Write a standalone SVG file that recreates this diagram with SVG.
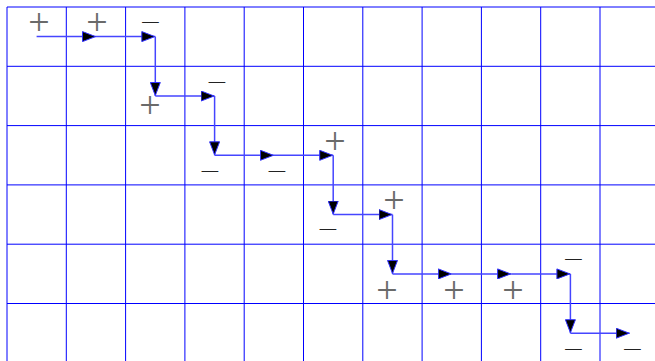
<svg xmlns="http://www.w3.org/2000/svg" width="655" height="361" viewBox="0 0 655 361">
<style>
.g{stroke:#0000ff;stroke-width:1;fill:none}
.c{stroke:#4545ff;stroke-width:1.5;fill:none;marker-end:url(#ah)}
.p{font-family:"Liberation Serif","Times New Roman",serif;font-size:38px;fill:#6a6a6a;text-anchor:middle}
.m{font-family:"Liberation Serif","Times New Roman",serif;font-size:20px;fill:#222;text-anchor:middle}
</style>
<defs>
<marker id="ah" viewBox="0 0 14 11" refX="14" refY="5.5" markerWidth="14" markerHeight="11" markerUnits="userSpaceOnUse" orient="auto">
<path d="M0.5,0.5 L13.5,5.5 L0.5,10.5 Z" fill="#000" stroke="#3030ff" stroke-width="1"/>
</marker>
</defs>
<rect width="655" height="361" fill="#fff"/>
<g id="grid" class="g">
<line x1="7" y1="7" x2="655" y2="7"/>
<line x1="7" y1="66.3" x2="655" y2="66.3"/>
<line x1="7" y1="125.6" x2="655" y2="125.6"/>
<line x1="7" y1="184.9" x2="655" y2="184.9"/>
<line x1="7" y1="244.2" x2="655" y2="244.2"/>
<line x1="7" y1="303.5" x2="655" y2="303.5"/>
<line x1="7" y1="7" x2="7" y2="361"/>
<line x1="66.3" y1="7" x2="66.3" y2="361"/>
<line x1="125.6" y1="7" x2="125.6" y2="361"/>
<line x1="184.9" y1="7" x2="184.9" y2="361"/>
<line x1="244.2" y1="7" x2="244.2" y2="361"/>
<line x1="303.5" y1="7" x2="303.5" y2="361"/>
<line x1="362.8" y1="7" x2="362.8" y2="361"/>
<line x1="422.1" y1="7" x2="422.1" y2="361"/>
<line x1="481.4" y1="7" x2="481.4" y2="361"/>
<line x1="540.7" y1="7" x2="540.7" y2="361"/>
<line x1="600" y1="7" x2="600" y2="361"/>
</g>
<g id="connectors">
<line class="c" x1="36.6" y1="36.6" x2="96" y2="36.6"/>
<line class="c" x1="96" y1="36.6" x2="155.3" y2="36.6"/>
<line class="c" x1="155.3" y1="36.6" x2="155.3" y2="96"/>
<line class="c" x1="155.3" y1="96" x2="214.6" y2="96"/>
<line class="c" x1="214.6" y1="96" x2="214.6" y2="155.3"/>
<line class="c" x1="214.6" y1="155.3" x2="273.9" y2="155.3"/>
<line class="c" x1="273.9" y1="155.3" x2="333.2" y2="155.3"/>
<line class="c" x1="333.2" y1="155.3" x2="333.2" y2="214.6"/>
<line class="c" x1="333.2" y1="214.6" x2="392.5" y2="214.6"/>
<line class="c" x1="392.5" y1="214.6" x2="392.5" y2="273.9"/>
<line class="c" x1="392.5" y1="273.9" x2="451.8" y2="273.9"/>
<line class="c" x1="451.8" y1="273.9" x2="511.1" y2="273.9"/>
<line class="c" x1="511.1" y1="273.9" x2="570.4" y2="273.9"/>
<line class="c" x1="570.4" y1="273.9" x2="570.4" y2="333.2"/>
<line class="c" x1="570.4" y1="333.2" x2="629.7" y2="333.2"/>
</g>
<g id="plus-signs" class="p">
<text x="39" y="34.5">+</text>
<text x="97" y="34.5">+</text>
<text x="150" y="117.5">+</text>
<text x="335" y="154.2">+</text>
<text x="394" y="212.5">+</text>
<text x="387" y="302.5">+</text>
<text x="454" y="302.5">+</text>
<text x="513" y="302.5">+</text>
</g>
<g id="minus-signs" class="m">
<text x="150.3" y="28.6" textLength="20.3" lengthAdjust="spacingAndGlyphs">−</text>
<text x="217" y="88.6" textLength="20.3" lengthAdjust="spacingAndGlyphs">−</text>
<text x="210" y="177.6" textLength="20.3" lengthAdjust="spacingAndGlyphs">−</text>
<text x="277" y="177.6" textLength="20.3" lengthAdjust="spacingAndGlyphs">−</text>
<text x="328" y="235.6" textLength="20.3" lengthAdjust="spacingAndGlyphs">−</text>
<text x="573.3" y="266.3" textLength="20.3" lengthAdjust="spacingAndGlyphs">−</text>
<text x="573.3" y="355.6" textLength="20.3" lengthAdjust="spacingAndGlyphs">−</text>
<text x="632.3" y="355.6" textLength="20.3" lengthAdjust="spacingAndGlyphs">−</text>
</g>
</svg>
